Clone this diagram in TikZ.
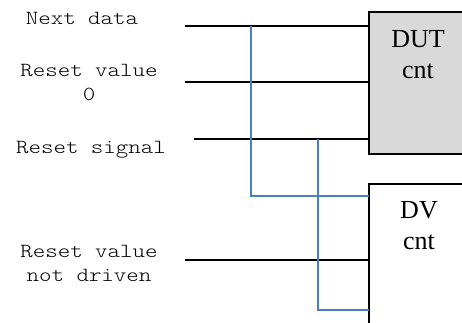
\documentclass[tikz,border=0pt]{standalone}
\usepackage{fontspec}
\setmainfont{Liberation Serif}
\newfontfamily\monofont[FakeStretch=1.19]{lmmonolt10-regular.otf}
\definecolor{wireblue}{RGB}{74,126,193}
\definecolor{boxgray}{RGB}{217,217,217}
\begin{document}
\begin{tikzpicture}[x=1pt,y=-1pt,
  lbl/.style={font=\monofont\fontsize{20}{24}\selectfont, align=center, inner sep=0pt, anchor=base},
  blk/.style={font=\fontsize{26}{31}\selectfont, align=center, inner sep=0pt, anchor=base},
  wire/.style={line width=1.3pt, black},
  bwire/.style={line width=1.5pt, wireblue}]
\useasboundingbox (0,0) rectangle (462,322);
\clip (0,0) rectangle (462,322);
% boxes
\draw[line width=1.2pt, fill=boxgray] (369,12) rectangle (470,154);
\draw[line width=1.2pt, fill=white] (369,330) -- (369,184) -- (470,184);
\node[blk] (dut) at (418,78) {DUT\\cnt};
\node[blk] (dv) at (419,249) {DV\\cnt};
% labels (base anchor = baseline of the last line)
\node[lbl] (nd) at (82,24.5) {Next data};
\node[lbl] (rv) at (89,100) {Reset value\\0};
\node[lbl] (rs) at (91,153) {Reset signal};
\node[lbl] (rn) at (89,281) {Reset value\\not driven};
% coordinates
\coordinate (a1) at (185,26);
\coordinate (a2) at (369,26);
\coordinate (b1) at (185,82);
\coordinate (b2) at (369,82);
\coordinate (c1) at (194,139);
\coordinate (c2) at (369,139);
\coordinate (d1) at (185,260);
\coordinate (d2) at (369,260);
\coordinate (u1) at (251,26);
\coordinate (u2) at (369,196);
\coordinate (v1) at (318,139);
\coordinate (v2) at (369,310);
% black wires
\draw[wire] (a1) -- (a2);
\draw[wire] (b1) -- (b2);
\draw[wire] (c1) -- (c2);
\draw[wire] (d1) -- (d2);
% blue wires
\draw[bwire] (u1) |- (u2);
\draw[bwire] (v1) |- (v2);
\end{tikzpicture}
\end{document}
